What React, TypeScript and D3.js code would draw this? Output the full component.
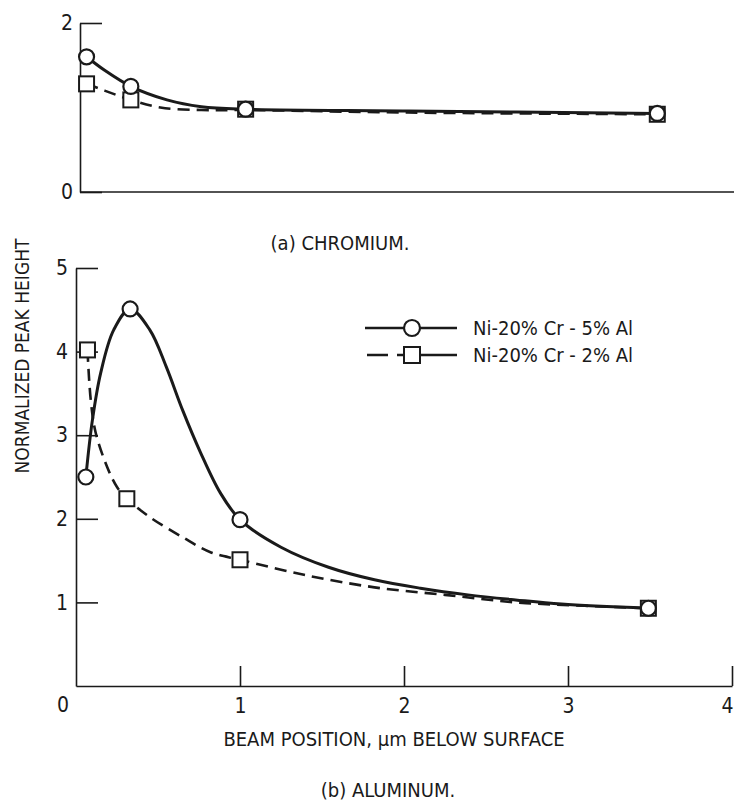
// import d3 for drawing
import * as d3 from "d3";
import { useRef, useEffect } from "react";

// marker values
const crX5 = [0.04, 0.31, 1.01, 3.52];
const crY5 = [1.6, 1.25, 0.98, 0.93];
const crX2 = [0.04, 0.31, 1.01, 3.52];
const crY2 = [1.28, 1.09, 0.98, 0.92];

const alX5 = [0.06, 0.33, 1.0, 3.49];
const alY5 = [2.5, 4.51, 1.99, 0.93];
const alX2 = [0.07, 0.31, 1.0, 3.49];
const alY2 = [4.02, 2.24, 1.51, 0.93];

// curves
const crCurve5: [number, number][] = [[0.04, 1.6], [0.15, 1.44], [0.31, 1.25], [0.53, 1.09], [0.74, 1.01], [1.01, 0.98], [2, 0.96], [3.52, 0.93]];
const crCurve2: [number, number][] = [[0.04, 1.28], [0.15, 1.2], [0.31, 1.09], [0.49, 1.0], [0.74, 0.97], [1.01, 0.97], [2, 0.94], [3.52, 0.92]];

const alCurve5: [number, number][] = [
  [0.06, 2.5], [0.1, 3.18], [0.15, 3.74], [0.23, 4.26], [0.33, 4.51], [0.45, 4.26], [0.55, 3.82],
  [0.65, 3.3], [0.76, 2.79], [0.88, 2.31], [1.0, 1.99], [1.25, 1.66], [1.54, 1.42], [1.82, 1.27],
  [2.1, 1.17], [2.39, 1.09], [2.68, 1.03], [2.96, 0.98], [3.49, 0.93],
];
const alCurve2: [number, number][] = [
  [0.07, 4.02], [0.09, 3.42], [0.12, 3.03], [0.19, 2.62], [0.25, 2.38], [0.31, 2.24], [0.45, 2.02],
  [0.65, 1.78], [0.82, 1.6], [1.0, 1.51], [1.39, 1.33], [1.82, 1.18], [2.25, 1.09], [2.68, 1.0],
  [3.1, 0.96], [3.49, 0.93],
];

const xTicks = [1, 2, 3, 4];
const alYTicks = [1, 2, 3, 4, 5];
const crYTicks = [0, 2];
const legendLabels = ["Ni-20% Cr - 5% Al", "Ni-20% Cr - 2% Al"];

const FONT = "'Liberation Sans Narrow', 'DejaVu Sans Condensed', sans-serif";
const INK = "#1a1a1a";

export default function App() {
  const svgRef = useRef<SVGSVGElement>(null);

  useEffect(() => {
    const svg = d3.select(svgRef.current);
    svg.selectAll("*").remove();

    // scales for both panels
    const xTop = d3.scaleLinear().domain([0, 4]).range([80, 736]);
    const yTop = d3.scaleLinear().domain([0, 2]).range([192, 23]);
    const xBot = d3.scaleLinear().domain([0, 4]).range([76, 732]);
    const yBot = d3.scaleLinear().domain([0, 5]).range([686, 268]);

    const styleAxis = (g: any, size: number) => {
      g.selectAll("path, line").attr("stroke", INK).attr("stroke-width", 1.6);
      g.selectAll("text").attr("fill", INK).style("font-family", FONT).style("font-size", size + "px");
    };

    // ---- top panel (chromium)
    const top = svg.append("g");
    top.append("g").attr("transform", `translate(${xTop(0)},0)`)
      .call(d3.axisLeft(yTop).tickValues(crYTicks).tickSizeInner(-22).tickSizeOuter(0).tickPadding(7).tickFormat(d3.format("d")))
      .call((g: any) => styleAxis(g, 21));
    top.append("line").attr("x1", xTop(0)).attr("x2", 734).attr("y1", yTop(0)).attr("y2", yTop(0))
      .attr("stroke", INK).attr("stroke-width", 1.6);

    // ---- bottom panel (aluminum)
    const bot = svg.append("g");
    bot.append("g").attr("transform", `translate(${xBot(0)},0)`)
      .call(d3.axisLeft(yBot).tickValues(alYTicks).tickSizeInner(-22).tickSizeOuter(0).tickPadding(8).tickFormat(d3.format("d")))
      .call((g: any) => styleAxis(g, 21));
    bot.append("g").attr("transform", `translate(0,${yBot(0)})`)
      .call(d3.axisBottom(xBot).tickValues(xTicks).tickSizeInner(-20).tickSizeOuter(0).tickPadding(12).tickFormat(d3.format("d")))
      .call((g: any) => styleAxis(g, 21))
      // the last label sits at the page edge; nudge it in so it stays visible
      .call((g: any) => g.selectAll(".tick text").filter((d: number) => d === 4).attr("dx", -5));
    bot.append("text").attr("x", xBot(0) - 13).attr("y", yBot(0) + 26).attr("text-anchor", "middle")
      .attr("fill", INK).style("font-family", FONT).style("font-size", "21px").text("0");

    // ---- lines
    const drawSeries = (g: any, x: any, y: any, curve: [number, number][], dashed: boolean) => {
      const line = d3.line<[number, number]>().x(d => x(d[0])).y(d => y(d[1])).curve(d3.curveCatmullRom.alpha(0.5));
      g.append("path").attr("d", line(curve)).attr("fill", "none").attr("stroke", INK)
        .attr("stroke-width", dashed ? 2.6 : 3).attr("stroke-dasharray", dashed ? "12,7" : null);
    };
    const drawSquares = (g: any, x: any, y: any, xs: number[], ys: number[]) => {
      g.selectAll(null).data(xs).enter().append("rect")
        .attr("x", (d: number) => x(d) - 7.5).attr("y", (_: number, i: number) => y(ys[i]) - 7.5)
        .attr("width", 15).attr("height", 15).attr("fill", "white").attr("stroke", INK).attr("stroke-width", 2);
    };
    const drawCircles = (g: any, x: any, y: any, xs: number[], ys: number[]) => {
      g.selectAll(null).data(xs).enter().append("circle")
        .attr("cx", (d: number) => x(d)).attr("cy", (_: number, i: number) => y(ys[i])).attr("r", 7.5)
        .attr("fill", "white").attr("stroke", INK).attr("stroke-width", 2.2);
    };

    drawSeries(top, xTop, yTop, crCurve2, true);
    drawSeries(top, xTop, yTop, crCurve5, false);
    drawSquares(top, xTop, yTop, crX2, crY2);
    drawCircles(top, xTop, yTop, crX5, crY5);

    drawSeries(bot, xBot, yBot, alCurve2, true);
    drawSeries(bot, xBot, yBot, alCurve5, false);
    drawSquares(bot, xBot, yBot, alX2, alY2);
    drawCircles(bot, xBot, yBot, alX5, alY5);

    // ---- legend
    const leg = svg.append("g");
    leg.append("line").attr("x1", 365).attr("x2", 457).attr("y1", 328).attr("y2", 328).attr("stroke", INK).attr("stroke-width", 2.4);
    leg.append("circle").attr("cx", 412).attr("cy", 328).attr("r", 8).attr("fill", "white").attr("stroke", INK).attr("stroke-width", 2.2);
    leg.append("line").attr("x1", 367).attr("x2", 457).attr("y1", 355).attr("y2", 355).attr("stroke", INK).attr("stroke-width", 2.4)
      .attr("stroke-dasharray", "21,9,60");
    leg.append("rect").attr("x", 404).attr("y", 347).attr("width", 16).attr("height", 16).attr("fill", "white").attr("stroke", INK).attr("stroke-width", 2);
    leg.selectAll(null).data(legendLabels).enter().append("text")
      .attr("x", 473).attr("y", (_: string, i: number) => 335 + i * 27)
      .attr("fill", INK).style("font-family", FONT).style("font-size", "20px").text((d: string) => d);

    // ---- titles
    const text = (x: number, y: number, s: string, size: number, rot = false) => {
      const t = svg.append("text").attr("text-anchor", "middle").attr("fill", INK)
        .style("font-family", FONT).style("font-size", size + "px").text(s);
      if (rot) t.attr("transform", `translate(${x},${y}) rotate(-90)`);
      else t.attr("x", x).attr("y", y);
    };
    text(340, 250, "(a) CHROMIUM.", 20);
    text(29, 356, "NORMALIZED PEAK HEIGHT", 19, true);
    text(394, 746, "BEAM POSITION, \u03bcm  BELOW SURFACE", 20);
    text(388, 797, "(b) ALUMINUM.", 20);
  }, []);

  return (
    <svg ref={svgRef} width={734} height={804}
      style={{ position: "absolute", left: 0, top: 0, background: "white" }} />
  );
}
